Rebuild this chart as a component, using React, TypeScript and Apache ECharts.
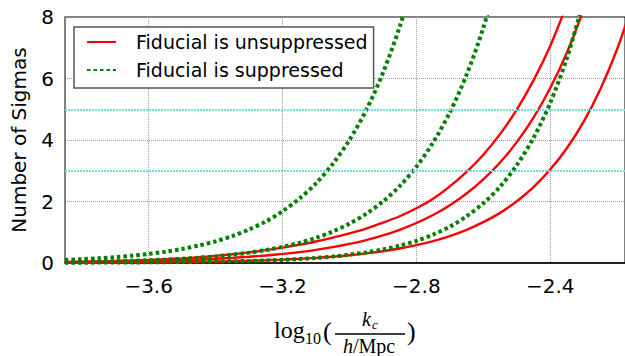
import React, { useEffect, useRef } from "react";
import * as echarts from "echarts";

// ---- data ----
const xTicks = [-3.6, -3.2, -2.8, -2.4];
const sigmaRefLines = [3, 5];

// sample positions along log10(k_c) at which the curves were read
const xGrid = [
  -3.85, -3.8, -3.75, -3.7, -3.65, -3.6, -3.55, -3.5, -3.45, -3.4, -3.35, -3.3,
  -3.25, -3.2, -3.15, -3.1, -3.05, -3.0, -2.95, -2.9, -2.85, -2.8, -2.75, -2.7,
  -2.65, -2.6, -2.55, -2.5, -2.45, -2.4, -2.35, -2.3, -2.25, -2.2, -2.15,
];

// "Fiducial is unsuppressed" (red, solid)
const unsuppressedA = [
  0.035, 0.043, 0.053, 0.065, 0.08, 0.099, 0.122, 0.151, 0.186, 0.23, 0.283, 0.345,
  0.417, 0.5, 0.595, 0.7, 0.825, 0.965, 1.12, 1.31, 1.52, 1.78, 2.09, 2.49,
  2.96, 3.52, 4.19, 4.99, 5.94, 7.06, 8.41,
];
const unsuppressedB = [
  0.024, 0.029, 0.035, 0.043, 0.053, 0.064, 0.078, 0.095, 0.115, 0.139, 0.168, 0.203,
  0.245, 0.295, 0.355, 0.428, 0.515, 0.62, 0.746, 0.898, 1.08, 1.3, 1.56, 1.88,
  2.26, 2.72, 3.27, 3.93, 4.73, 5.69, 6.85, 8.24,
];
const unsuppressedC = [
  0.0075, 0.009, 0.011, 0.014, 0.017, 0.021, 0.026, 0.032, 0.039, 0.048, 0.06, 0.073,
  0.09, 0.111, 0.136, 0.167, 0.206, 0.253, 0.312, 0.383, 0.47, 0.58, 0.713, 0.877,
  1.08, 1.33, 1.63, 2.01, 2.47, 3.04, 3.74, 4.6, 5.66, 6.96, 8.56,
];
// "Fiducial is suppressed" (green, dotted)
const suppressedA = [
  0.1, 0.124, 0.154, 0.192, 0.238, 0.296, 0.368, 0.457, 0.568, 0.705, 0.876, 1.09,
  1.35, 1.68, 2.09, 2.59, 3.22, 4.0, 4.97, 6.18, 7.68, 9.5,
];
const suppressedB = [
  0.03, 0.037, 0.046, 0.057, 0.071, 0.089, 0.111, 0.139, 0.174, 0.217, 0.27, 0.337,
  0.42, 0.525, 0.655, 0.82, 1.025, 1.28, 1.6, 2.0, 2.5, 3.13, 3.92, 4.9,
  6.12, 7.65, 9.55,
];
const suppressedC = [
  0.01, 0.011, 0.013, 0.015, 0.018, 0.022, 0.027, 0.032, 0.039, 0.047, 0.057, 0.068,
  0.082, 0.1, 0.129, 0.165, 0.21, 0.27, 0.345, 0.44, 0.565, 0.72, 0.925, 1.18,
  1.52, 1.94, 2.48, 3.18, 4.07, 5.21, 6.67, 8.54,
];

const NAME_UNSUP = "Fiducial is unsuppressed";
const NAME_SUP = "Fiducial is suppressed";

const fmtMinus = (v: number) => (v < 0 ? "\u2212" + Math.abs(v).toFixed(1) : v.toFixed(1));
const pair = (vals: number[]) => vals.map((v, i) => [xGrid[i], v]);

export default function App() {
  const ref = useRef<HTMLDivElement>(null);

  useEffect(() => {
    if (!ref.current) return;
    const chart = echarts.init(ref.current, null, { renderer: "svg" });

    const redStyle = { color: "#ff0000", width: 2.4, type: "solid" as const };
    const greenStyle = { color: "#008000", width: 4, type: [3.5, 3] as any, cap: "butt" as const };

    const mkLine = (name: string, vals: number[], lineStyle: any, extra: any = {}) => ({
      type: "line",
      name,
      data: pair(vals),
      showSymbol: false,
      symbol: "none",
      smooth: 0.3,
      clip: true,
      color: lineStyle.color,
      lineStyle,
      ...extra,
    });

    const sans = "'DejaVu Sans', sans-serif";
    const serif = "'Liberation Serif', 'DejaVu Serif', serif";

    chart.setOption({
      animation: false,
      backgroundColor: "#ffffff",
      grid: {
        left: 65,
        top: 17,
        right: -2,
        bottom: 93,
        show: true,
        borderColor: "#000",
        borderWidth: 1,
        backgroundColor: "transparent",
      },
      legend: {
        data: [NAME_UNSUP, NAME_SUP],
        orient: "vertical",
        left: 74,
        top: 27,
        padding: [5, 6, 8, 12],
        itemWidth: 29,
        itemHeight: 20,
        itemGap: 8,
        backgroundColor: "#fff",
        borderColor: "#555",
        borderWidth: 1.5,
        borderRadius: 0,
        selectedMode: false,
        itemStyle: { opacity: 0 },
        textStyle: {
          fontFamily: sans,
          fontSize: 19,
          color: "#000",
          lineHeight: 20,
          padding: [0, 0, 0, 15],
        },
      },
      xAxis: {
        type: "value",
        min: -3.85,
        max: -2.1766,
        axisLine: { show: true, onZero: false, lineStyle: { color: "#000", width: 1.5 } },
        axisTick: { show: false, customValues: xTicks },
        axisLabel: {
          customValues: xTicks,
          formatter: (v: number) => fmtMinus(v),
          fontFamily: sans,
          fontSize: 20,
          color: "#000",
          margin: 13,
        },
        splitLine: { show: true, lineStyle: { color: "#999", type: "dotted", width: 1 } },
      },
      yAxis: {
        type: "value",
        min: 0,
        max: 8,
        interval: 2,
        name: "Number of Sigmas",
        nameLocation: "middle",
        nameGap: 36,
        nameTextStyle: { fontFamily: sans, fontSize: 20, color: "#000" },
        axisLine: { show: true, lineStyle: { color: "#808080", width: 2 } },
        axisTick: { show: false },
        axisLabel: {
          fontFamily: sans,
          fontSize: 20,
          color: "#000",
          margin: 11,
        },
        splitLine: { show: true, lineStyle: { color: "#999", type: "dotted", width: 1 } },
      },
      series: [
        mkLine(NAME_UNSUP, unsuppressedA, redStyle, {
          markLine: {
            silent: true,
            symbol: "none",
            label: { show: false },
            lineStyle: { color: "#70dcdc", type: [2, 1], width: 2 },
            data: sigmaRefLines.map((v) => ({ yAxis: v })),
          },
        }),
        mkLine(NAME_UNSUP, unsuppressedB, redStyle),
        mkLine(NAME_UNSUP, unsuppressedC, redStyle),
        mkLine(NAME_SUP, suppressedA, greenStyle),
        mkLine(NAME_SUP, suppressedB, greenStyle),
        mkLine(NAME_SUP, suppressedC, greenStyle),
      ],
      graphic: [
        { type: "text", left: 274, top: 318, style: { text: "log", font: `24px ${serif}`, fill: "#000" } },
        { type: "text", left: 305, top: 330, style: { text: "10", font: `16px ${serif}`, fill: "#000" } },
        { type: "text", left: 323, top: 318, style: { text: "(", font: `26px ${serif}`, fill: "#000" } },
        { type: "text", left: 362, top: 309, style: { text: "k", font: `italic 20px ${serif}`, fill: "#000" } },
        { type: "text", left: 372, top: 318, style: { text: "c", font: `italic 13px ${serif}`, fill: "#000" } },
        { type: "line", shape: { x1: 335, y1: 334, x2: 405, y2: 334 }, style: { stroke: "#000", lineWidth: 1.5 } },
        { type: "text", left: 343, top: 336, style: { text: "h", font: `italic 20px ${serif}`, fill: "#000" } },
        { type: "text", left: 353, top: 336, style: { text: "/Mpc", font: `20px ${serif}`, fill: "#000" } },
        { type: "text", left: 407, top: 318, style: { text: ")", font: `26px ${serif}`, fill: "#000" } },
      ],
    });

    return () => chart.dispose();
  }, []);

  return (
    <div
      ref={ref}
      style={{ position: "fixed", left: 0, top: 0, width: 625, height: 356, background: "#fff" }}
    />
  );
}
